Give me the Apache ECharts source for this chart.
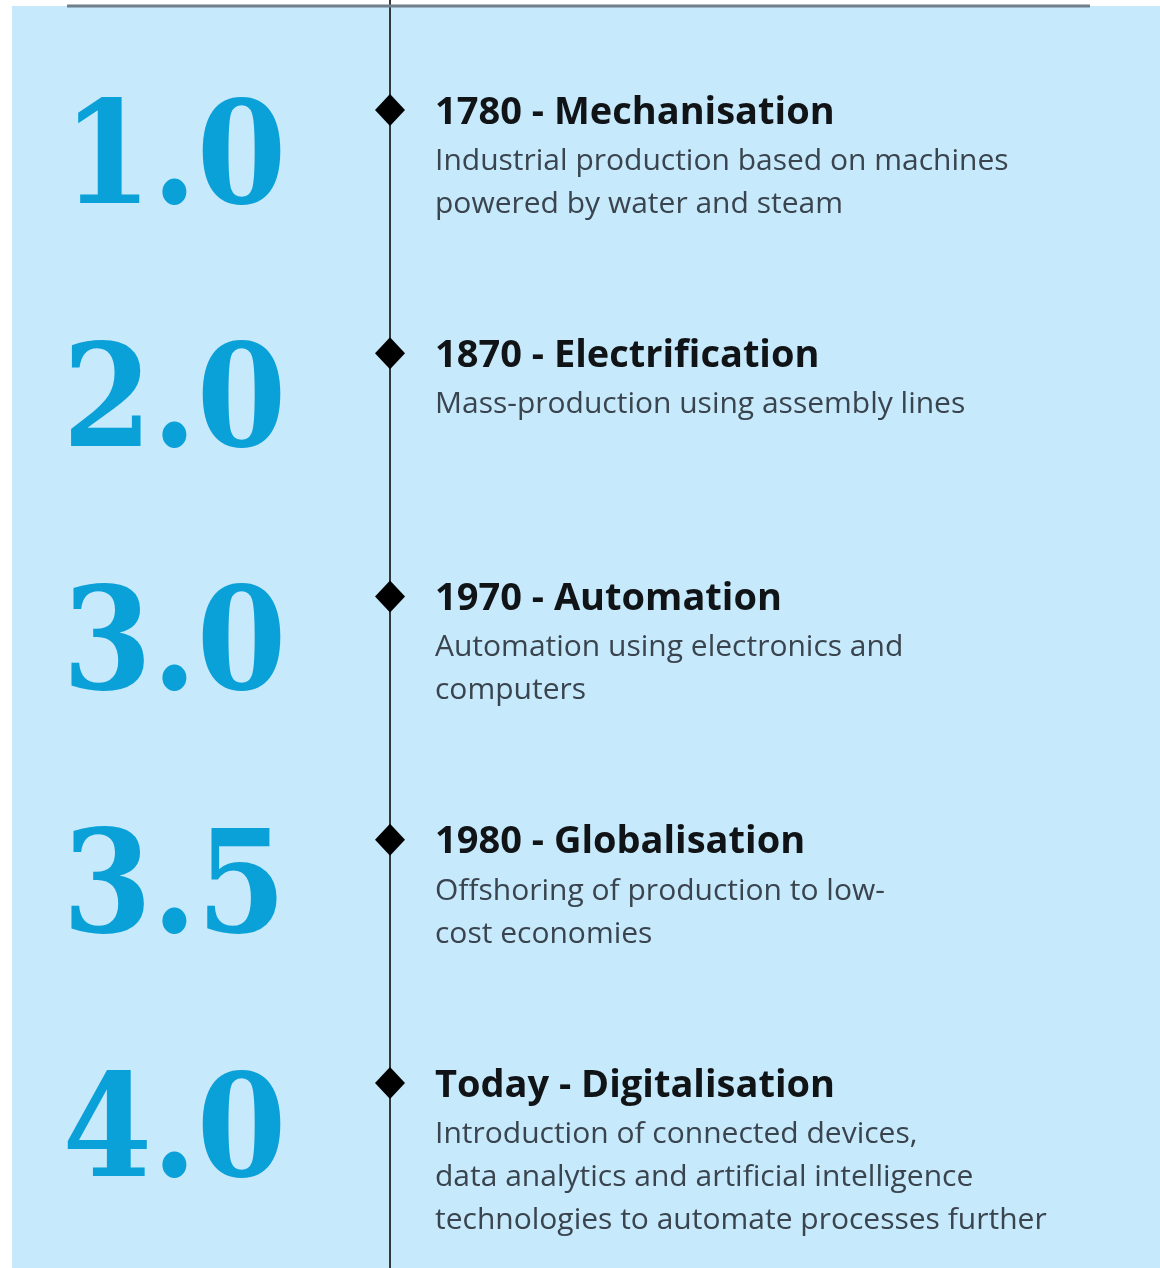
<!DOCTYPE html>
<html>
<head>
<meta charset="utf-8">
<script src="https://cdn.jsdelivr.net/npm/echarts@6/dist/echarts.min.js"></script>
<style>html,body{margin:0;padding:0;background:#fff}#c{width:1160px;height:1268px}</style>
</head>
<body>
<div id="c"></div>
<script>
const versions = ['1.0', '2.0', '3.0', '3.5', '4.0'];
const titles = ['1780 - Mechanisation', '1870 - Electrification', '1970 - Automation', '1980 - Globalisation', 'Today - Digitalisation'];
const descriptions = [
  ['Industrial production based on machines', 'powered by water and steam'],
  ['Mass-production using assembly lines'],
  ['Automation using electronics and', 'computers'],
  ['Offshoring of production to low-', 'cost economies'],
  ['Introduction of connected devices,', 'data analytics and artificial intelligence', 'technologies to automate processes further']
];

const chart = echarts.init(document.getElementById('c'), null, {renderer: 'canvas'});
const points = versions.map((v, i) => [0, i]);

chart.setOption({
  backgroundColor: '#ffffff',
  animation: false,
  graphic: [
    {type: 'rect', z: -10, shape: {x: 12, y: 6, width: 1160, height: 1270}, style: {fill: '#c6e9fb'}},
    {type: 'line', z: 5, shape: {x1: 67, y1: 6, x2: 1090, y2: 6}, style: {stroke: '#6f7f8c', lineWidth: 3}}
  ],
  grid: {left: 390, right: 0, top: 0, bottom: 0},
  xAxis: {type: 'value', min: 0, max: 1, show: false},
  yAxis: {
    type: 'value', inverse: true, min: -0.452, max: 4.761,
    axisLine: {show: true, onZero: false, lineStyle: {color: '#33383d', width: 2}},
    axisTick: {show: false}, axisLabel: {show: false}, splitLine: {show: false}
  },
  series: [
    {
      type: 'scatter',
      data: points,
      symbol: 'diamond',
      symbolSize: [30, 32],
      itemStyle: {color: '#000000', opacity: 1},
      z: 10,
      label: {
        show: true,
        position: 'right',
        distance: 30,
        verticalAlign: 'top',
        offset: [0, -24],
        formatter: p => '{t|' + titles[p.dataIndex] + '}\n' + descriptions[p.dataIndex].map(s => '{b|' + s + '}').join('\n'),
        rich: {
          t: {fontFamily: 'Open Sans', fontWeight: 'bold', fontSize: 38, color: '#111416', lineHeight: 54},
          b: {fontFamily: 'Open Sans', fontSize: 30, color: '#3a444e', lineHeight: 43}
        }
      }
    },
    {
      type: 'scatter',
      data: points,
      symbol: 'circle',
      symbolSize: 1,
      itemStyle: {color: 'rgba(0,0,0,0)', opacity: 1},
      label: {
        show: true,
        position: [-327, 0],
        align: 'left',
        verticalAlign: 'middle',
        offset: [0, 56],
        formatter: p => versions[p.dataIndex],
        fontFamily: '"DejaVu Serif Condensed", "Liberation Serif"',
        fontWeight: 'bold',
        fontSize: 143,
        color: '#0aa0d8'
      }
    }
  ]
});
</script>
</body>
</html>
